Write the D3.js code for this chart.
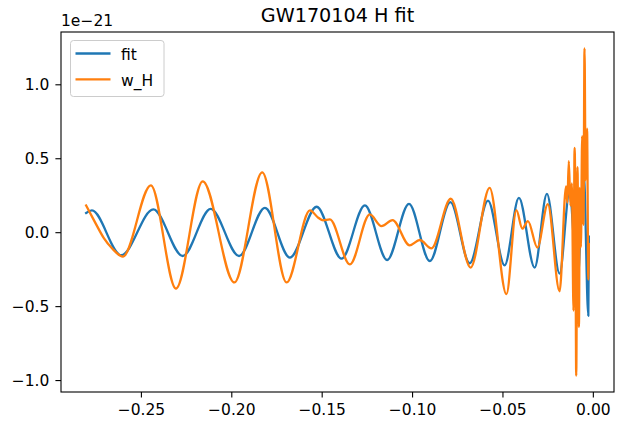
<!DOCTYPE html>
<html>
<head>
<meta charset="utf-8">
<script src="https://cdn.jsdelivr.net/npm/d3@7"></script>
<style>
  body { margin: 0; background: #fff; }
  text { font-family: "DejaVu Sans", sans-serif; fill: #000; }
</style>
</head>
<body>
<svg id="chart" width="638" height="423"></svg>
<script>
// Time relative to merger (s) and strain in units of 1e-21.
// Template fit: turning points of the chirp.
const fitTime = [-0.2803, -0.2771, -0.2609, -0.2431, -0.2269, -0.2114, -0.1957, -0.1814,
  -0.1676, -0.1528, -0.1390, -0.1261, -0.1138, -0.1017, -0.0902, -0.0788, -0.0681,
  -0.0580, -0.0488, -0.0409, -0.0322, -0.0254, -0.0184, -0.0129, -0.0085, -0.0050,
  -0.0025, -0.0022];
const fitStrain = [0.130, 0.147, -0.156, 0.154, -0.161, 0.158, -0.161, 0.165,
  -0.172, 0.172, -0.179, 0.181, -0.188, 0.192, -0.195, 0.203, -0.210,
  0.214, -0.224, 0.232, -0.239, 0.259, -0.280, 0.270, -0.330, 0.400,
  -0.565, -0.030];

// Whitened Hanford strain: turning points and shoulders.
const whTime = [-0.2803, -0.2755, -0.2705, -0.2659, -0.2600, -0.2445, -0.2306, -0.2158,
  -0.1983, -0.1829, -0.1694, -0.1565, -0.1519, -0.1492, -0.1455, -0.1344, -0.1234,
  -0.1169, -0.1108, -0.1013, -0.0957, -0.0893, -0.0786, -0.0676, -0.0571, -0.0478,
  -0.0423, -0.0390, -0.0359, -0.0307, -0.0249, -0.0184, -0.0148, -0.0141, -0.0133,
  -0.0124, -0.0116, -0.0107, -0.0101, -0.0096, -0.0092, -0.0085, -0.0077, -0.0072,
  -0.0066, -0.0059, -0.0052, -0.0046, -0.0040, -0.0032, -0.0025, -0.0022];
const whStrain = [0.180, 0.070, -0.040, -0.110, -0.165, 0.317, -0.381, 0.344,
  -0.340, 0.405, -0.340, 0.147, 0.098, 0.080, 0.086, -0.218, 0.120,
  0.041, 0.082, -0.089, -0.053, -0.109, 0.226, -0.239, 0.300, -0.419,
  0.149, 0.024, 0.075, -0.104, 0.190, -0.400, 0.310, 0.200, 0.480,
  0.180, 0.330, -0.530, 0.570, 0.050, -0.970, 0.440, -0.640, 0.300,
  -0.100, 0.650, 0.050, 1.243, 0.350, 0.700, -0.320, -0.080];

const xTicks = [-0.25, -0.20, -0.15, -0.10, -0.05, 0.00];
const yTicks = [-1.0, -0.5, 0.0, 0.5, 1.0];
const seriesNames = ["fit", "w_H"];
const seriesColors = ["#1f77b4", "#ff7f0e"];
const chartTitle = "GW170104 H fit";
const offsetText = "1e\u221221";

const W = 638, H = 423;
const plot = { left: 61, right: 614, top: 32, bottom: 392 };
const fontSize = 15.5;

const svg = d3.select("#chart");

// Data limits padded by 5% on each side.
function padded(values) {
  const [lo, hi] = d3.extent(values);
  const m = (hi - lo) * 0.05;
  return [lo - m, hi + m];
}

const x = d3.scaleLinear()
  .domain(padded(fitTime.concat(whTime)))
  .range([plot.left, plot.right]);
const y = d3.scaleLinear()
  .domain(padded(fitStrain.concat(whStrain)))
  .range([plot.bottom, plot.top]);

// Curves
const fitData = fitTime.map((t, i) => [t, fitStrain[i]]);
const whData = whTime.map((t, i) => [t, whStrain[i]]);
const line = d3.line()
  .x(d => x(d[0]))
  .y(d => y(d[1]))
  .curve(d3.curveMonotoneX);

svg.append("defs").append("clipPath").attr("id", "clip")
  .append("rect")
  .attr("x", plot.left).attr("y", plot.top)
  .attr("width", plot.right - plot.left).attr("height", plot.bottom - plot.top);

const lines = svg.append("g").attr("clip-path", "url(#clip)");
[fitData, whData].forEach((data, i) => {
  lines.append("path")
    .datum(data)
    .attr("d", line)
    .attr("fill", "none")
    .attr("stroke", seriesColors[i])
    .attr("stroke-width", 2.3)
    .attr("stroke-linejoin", "round")
    .attr("stroke-linecap", "square");
});

// Axes
const fmtX = d3.format(".2f");
const fmtY = d3.format(".1f");

const xAxis = svg.append("g")
  .attr("transform", `translate(0,${plot.bottom})`)
  .call(d3.axisBottom(x).tickValues(xTicks).tickFormat(fmtX)
    .tickSize(5.6).tickPadding(6));
const yAxis = svg.append("g")
  .attr("transform", `translate(${plot.left},0)`)
  .call(d3.axisLeft(y).tickValues(yTicks).tickFormat(fmtY)
    .tickSize(5.6).tickPadding(6));

[xAxis, yAxis].forEach(g => {
  g.select(".domain").remove();
  g.selectAll(".tick line").attr("stroke", "#000").attr("stroke-width", 1.1);
  g.selectAll(".tick text")
    .attr("font-size", fontSize)
    .attr("font-family", "DejaVu Sans, sans-serif")
    .attr("fill", "#000");
});

// Frame
svg.append("rect")
  .attr("x", plot.left).attr("y", plot.top)
  .attr("width", plot.right - plot.left).attr("height", plot.bottom - plot.top)
  .attr("fill", "none").attr("stroke", "#000").attr("stroke-width", 1.1);

// Title and offset label
svg.append("text")
  .attr("x", (plot.left + plot.right) / 2).attr("y", 22)
  .attr("text-anchor", "middle")
  .attr("font-size", 19.2)
  .text(chartTitle);

svg.append("text")
  .attr("x", plot.left).attr("y", 26)
  .attr("font-size", fontSize)
  .text(offsetText);

// Legend
const legend = svg.append("g");
legend.append("rect")
  .attr("x", 70.5).attr("y", 40.5)
  .attr("width", 93.5).attr("height", 56)
  .attr("rx", 3).attr("ry", 3)
  .attr("fill", "#fff").attr("fill-opacity", 0.8)
  .attr("stroke", "#cccccc").attr("stroke-width", 1);

seriesNames.forEach((name, i) => {
  const yy = 53.5 + i * 25.8;
  legend.append("line")
    .attr("x1", 75.5).attr("x2", 110.5)
    .attr("y1", yy).attr("y2", yy)
    .attr("stroke", seriesColors[i]).attr("stroke-width", 2.3);
  legend.append("text")
    .attr("x", 121).attr("y", yy + 6.5)
    .attr("font-size", fontSize)
    .text(name);
});
</script>
</body>
</html>
